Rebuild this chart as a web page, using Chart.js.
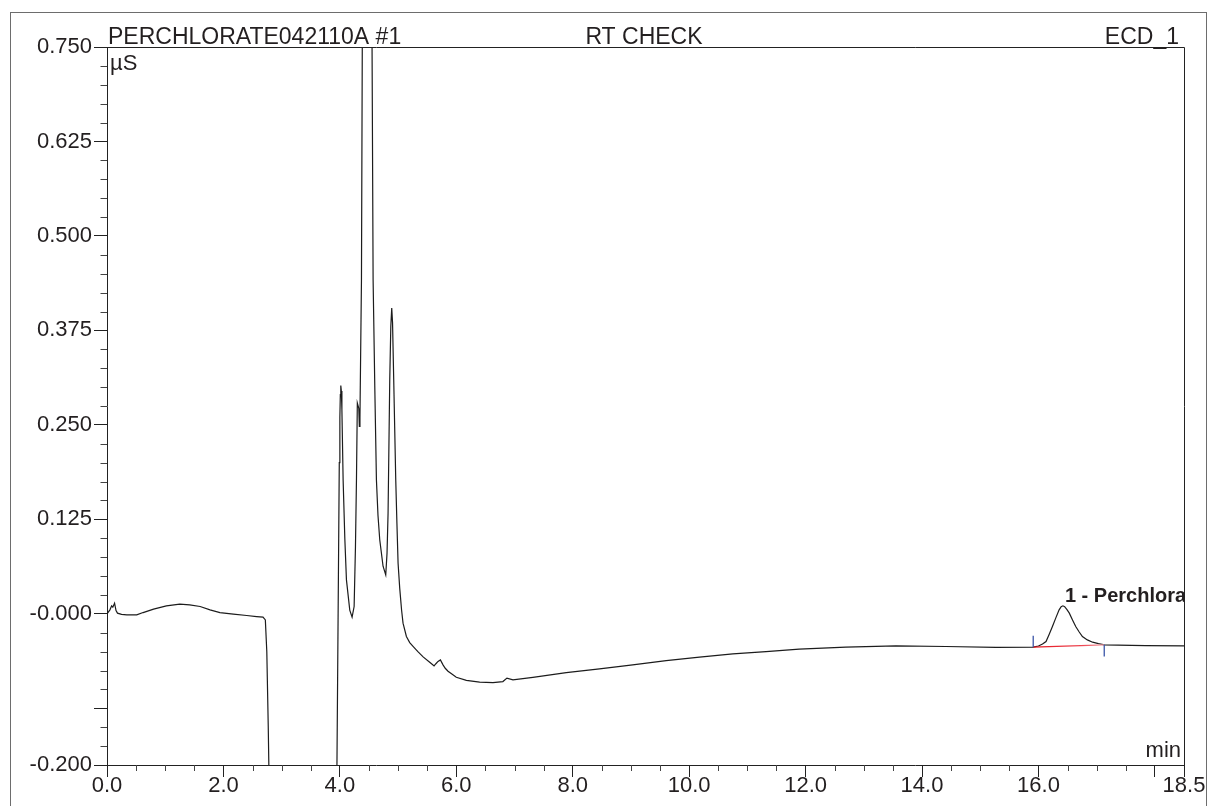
<!DOCTYPE html>
<html><head><meta charset="utf-8">
<script src="https://cdn.jsdelivr.net/npm/chart.js@4.4.0/dist/chart.umd.min.js"></script>
<style>html,body{margin:0;padding:0;background:#fff;}canvas{display:block;}</style>
</head><body>
<canvas id="c" width="1208" height="806"></canvas>
<script>
// ---- Data ----
const timeMin = [
  0.0, 0.05, 0.08, 0.10, 0.13, 0.155, 0.18, 0.25, 0.34, 0.51, 0.62, 0.80, 1.02, 1.25, 1.42, 1.60, 1.77, 1.94,
  2.17, 2.40, 2.57, 2.68, 2.72, 2.745, 2.77, 2.80, 3.93, 3.945, 3.96, 3.975, 3.99, 4.00, 4.008, 4.016, 4.025, 4.035,
  4.056, 4.085, 4.113, 4.17, 4.21, 4.245, 4.268, 4.285, 4.30, 4.325, 4.335, 4.345, 4.371, 4.385, 4.40,
  4.47, 4.54, 4.553, 4.571, 4.60, 4.628, 4.655, 4.685, 4.742, 4.788, 4.81, 4.828, 4.857, 4.875, 4.891,
  4.905, 4.925, 4.96, 4.98, 5.00, 5.028, 5.06, 5.085, 5.143, 5.20, 5.257, 5.34, 5.43, 5.543, 5.59, 5.618, 5.65, 5.686, 5.727, 5.772,
  5.81, 5.858, 5.93, 6.0, 6.173, 6.401, 6.63, 6.80, 6.87, 6.973, 7.316, 7.889, 8.46, 9.03, 9.605, 10.177, 10.75,
  11.32, 11.89, 12.69, 13.55, 14.41, 15.27, 15.91, 16.0, 16.07, 16.13, 16.185, 16.24, 16.30, 16.355, 16.39, 16.42,
  16.45, 16.49, 16.53, 16.585, 16.64, 16.70, 16.755, 16.84, 16.93, 17.03, 17.13, 17.84, 18.5
];
const signalUS = [
  0.0, 0.0053, 0.0106, 0.0088, 0.0141, 0.0044, 0.0009, -0.0008, -0.0013, -0.0013, 0.0017, 0.0062, 0.0106, 0.0128, 0.0119, 0.0097, 0.0053, 0.0017,
  -0.0004, -0.0022, -0.0036, -0.0044, -0.008, -0.05, -0.15, -0.30, -0.30, -0.25, -0.10, 0.05, 0.20, 0.26, 0.29, 0.302, 0.295, 0.27,
  0.177, 0.10, 0.045, 0.005, -0.0044, 0.0097, 0.089, 0.177, 0.279, 0.272, 0.248, 0.26, 0.442, 0.75, 1.0,
  1.4, 1.0, 0.75, 0.442, 0.30, 0.177, 0.13, 0.098, 0.063, 0.0516, 0.08, 0.133, 0.31, 0.38, 0.4045,
  0.385, 0.31, 0.177, 0.12, 0.067, 0.034, 0.005, -0.0123, -0.030, -0.038, -0.043, -0.050, -0.057, -0.064, -0.067, -0.0688, -0.066, -0.063, -0.061, -0.0675,
  -0.072, -0.076, -0.080, -0.084, -0.088, -0.0904, -0.091, -0.0896, -0.085, -0.0873, -0.084, -0.0777, -0.0728, -0.0675, -0.0618, -0.0573, -0.0529,
  -0.0499, -0.0467, -0.044, -0.0423, -0.0432, -0.0445, -0.044, -0.0425, -0.040, -0.0366, -0.027, -0.0168, -0.005, 0.0053, 0.0095, 0.0106,
  0.0095, 0.0055, 0.0009, -0.008, -0.0168, -0.024, -0.030, -0.0345, -0.0375, -0.0395, -0.041, -0.042, -0.0423
];
// integration baseline and peak delimiters of peak 1
const baselineTimes = [15.91, 17.13];
const baselineValues = [-0.044, -0.041];
const delimiterTimes = [15.91, 17.13];
const delimiterFrom = [-0.044, -0.041];
const delimiterTo = [-0.029, -0.0565];
const peakNames = ['1 - Perchlorate'];
const peakTimes = [16.42];
const peakValues = [0.0106];

// ---- Axis ticks ----
const yMajorTicks = [0.75, 0.625, 0.5, 0.375, 0.25, 0.125, 0, -0.125, -0.2];
const yTickLabels = ['0.750', '0.625', '0.500', '0.375', '0.250', '0.125', '-0.000', '', '-0.200'];
const yMinorTicks = [0.725, 0.7, 0.675, 0.65, 0.6, 0.575, 0.55, 0.525, 0.475, 0.45, 0.425, 0.4, 0.35, 0.325, 0.3, 0.275,
  0.225, 0.2, 0.175, 0.15, 0.1, 0.075, 0.05, 0.025, -0.025, -0.05, -0.075, -0.1, -0.15, -0.175];
const xMajorTicks = [0, 2, 4, 6, 8, 10, 12, 14, 16, 18, 18.5];
const xTickLabels = ['0.0', '2.0', '4.0', '6.0', '8.0', '10.0', '12.0', '14.0', '16.0', '', '18.5'];
const xMinorTicks = [0.5, 1, 1.5, 2.5, 3, 3.5, 4.5, 5, 5.5, 6.5, 7, 7.5, 8.5, 9, 9.5, 10.5, 11, 11.5,
  12.5, 13, 13.5, 14.5, 15, 15.5, 16.5, 17, 17.5];

const headerLeft = 'PERCHLORATE042110A #1';
const headerCenter = 'RT CHECK';
const headerRight = 'ECD_1';
const yUnit = 'µS';
const xUnit = 'min';

const FONT = '"Liberation Sans", Arial, sans-serif';
const INK = '#231f20';

const decorPlugin = {
  id: 'decor',
  beforeDraw(chart) {
    const c = chart.ctx;
    c.save();
    c.fillStyle = '#fff';
    c.fillRect(0, 0, chart.width, chart.height);
    c.strokeStyle = '#6d6d6d';
    c.lineWidth = 1;
    c.strokeRect(10.5, 12.5, 1196, 800);
    c.restore();
  },
  afterDatasetsDraw(chart) {
    const c = chart.ctx, a = chart.chartArea;
    const xs = chart.scales.x, ys = chart.scales.y;
    c.save();
    c.beginPath();
    c.rect(a.left, a.top, a.right - a.left, a.bottom - a.top);
    c.clip();
    c.fillStyle = INK;
    c.font = 'bold 20px ' + FONT;
    c.textAlign = 'left';
    c.textBaseline = 'alphabetic';
    peakNames.forEach((n, i) => {
      c.fillText(n, xs.getPixelForValue(peakTimes[i]) + 2, ys.getPixelForValue(peakValues[i]) - 4);
    });
    c.restore();
  },
  afterDraw(chart) {
    const c = chart.ctx, a = chart.chartArea;
    const xs = chart.scales.x, ys = chart.scales.y;
    c.save();
    c.strokeStyle = '#222';
    c.lineWidth = 1;
    c.beginPath();
    c.moveTo(Math.round(a.left) + 0.5, Math.round(a.top) + 0.5);
    c.lineTo(Math.round(a.right) + 0.5, Math.round(a.top) + 0.5);
    c.lineTo(Math.round(a.right) + 0.5, Math.round(a.bottom) + 0.5);
    c.stroke();
    c.strokeStyle = '#444';
    c.beginPath();
    yMinorTicks.forEach(v => {
      const y = Math.round(ys.getPixelForValue(v)) + 0.5;
      c.moveTo(a.left, y); c.lineTo(a.left - 6.5, y);
    });
    xMinorTicks.forEach(v => {
      const x = Math.round(xs.getPixelForValue(v)) + 0.5;
      c.moveTo(x, a.bottom); c.lineTo(x, a.bottom + 6);
    });
    c.stroke();
    c.fillStyle = INK;
    c.font = '23px ' + FONT;
    c.textBaseline = 'alphabetic';
    c.textAlign = 'left';
    c.fillText(headerLeft, 108, 43.5);
    c.textAlign = 'center';
    c.fillText(headerCenter, 644, 43.5);
    c.textAlign = 'right';
    c.fillText(headerRight, 1179, 43.5);
    c.font = '22px ' + FONT;
    c.textAlign = 'left';
    c.fillText(yUnit, 110, 69.5);
    c.textAlign = 'right';
    c.fillText(xUnit, 1181, 757);
    c.restore();
  }
};

const traceData = timeMin.map((t, i) => ({ x: t, y: signalUS[i] }));
const baselineData = baselineTimes.map((t, i) => ({ x: t, y: baselineValues[i] }));
const delimiterSets = delimiterTimes.map((t, i) => ({
  data: [{ x: t, y: delimiterFrom[i] }, { x: t, y: delimiterTo[i] }],
  borderColor: '#3a55a8', borderWidth: 1.3, pointRadius: 0, tension: 0, fill: false
}));

new Chart(document.getElementById('c'), {
  type: 'line',
  data: {
    datasets: [
      { data: traceData, borderColor: '#1c1c1c', borderWidth: 1.2, pointRadius: 0, tension: 0, fill: false, order: 2 },
      {
        data: baselineData, borderWidth: 1.3, pointRadius: 0, tension: 0, fill: false, order: 1,
        borderColor: (ctx) => {
          const ch = ctx.chart;
          if (!ch.chartArea) return '#e8202a';
          const xs = ch.scales.x;
          const g = ch.ctx.createLinearGradient(xs.getPixelForValue(baselineTimes[0]), 0, xs.getPixelForValue(baselineTimes[1]), 0);
          g.addColorStop(0, '#e4141e');
          g.addColorStop(0.7, '#ee4a55');
          g.addColorStop(1, '#f6a3aa');
          return g;
        }
      },
      ...delimiterSets
    ]
  },
  options: {
    responsive: false,
    animation: false,
    devicePixelRatio: 1,
    layout: { padding: { top: 47, right: 24, bottom: 0, left: 0 } },
    plugins: { legend: { display: false }, tooltip: { enabled: false }, title: { display: false } },
    events: [],
    scales: {
      x: {
        type: 'linear', min: 0, max: 18.5,
        afterBuildTicks: (s) => { s.ticks = xMajorTicks.map(v => ({ value: v })); },
        afterFit: (s) => { s.height = 41; },
        ticks: {
          autoSkip: false, maxRotation: 0, minRotation: 0, padding: -4,
          color: INK, font: { family: FONT, size: 22 },
          callback: (v, i) => xTickLabels[i]
        },
        grid: { display: true, drawOnChartArea: false, drawTicks: true, tickLength: 12, color: '#222' },
        border: { display: true, color: '#222', width: 1 }
      },
      y: {
        type: 'linear', min: -0.2, max: 0.75,
        afterBuildTicks: (s) => { s.ticks = yMajorTicks.map(v => ({ value: v })); },
        afterFit: (s) => { s.width = 107; },
        ticks: {
          autoSkip: false, padding: 2,
          color: INK, font: { family: FONT, size: 22 },
          callback: (v, i) => yTickLabels[i]
        },
        grid: { display: true, drawOnChartArea: false, drawTicks: true, tickLength: 13, color: '#222' },
        border: { display: true, color: '#222', width: 1 }
      }
    }
  },
  plugins: [decorPlugin]
});
</script>
</body></html>
